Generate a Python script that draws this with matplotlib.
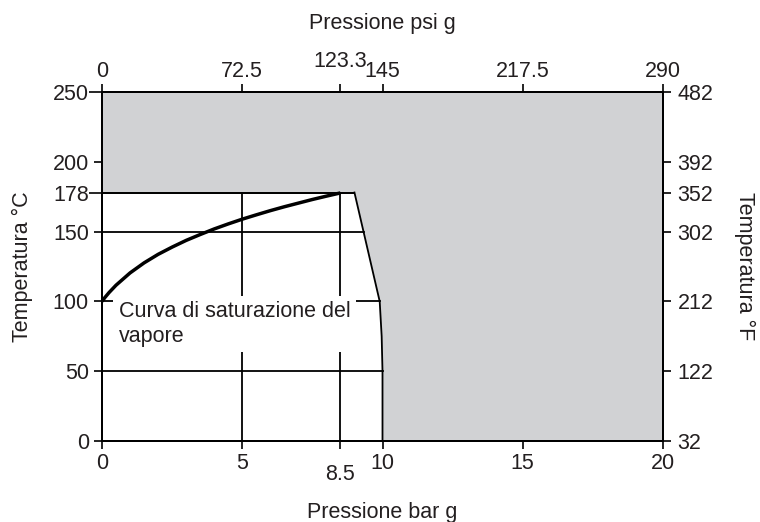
import numpy as np
import matplotlib
matplotlib.use("Agg")
import matplotlib.pyplot as plt

plt.rcParams['font.family'] = ['Liberation Sans', 'DejaVu Sans']

# Data
pressure_bar = [0, 0.1, 0.25, 0.5, 1, 1.5, 2, 2.5, 3, 3.5, 4, 4.5, 5, 5.5, 6, 6.5, 7, 7.5, 8, 8.5]
sat_temp_c = [100, 102.7, 106.3, 111.6, 120.4, 127.6, 133.7, 138.9, 143.7, 147.9, 151.9,
              155.5, 158.9, 162.0, 165.0, 167.8, 170.4, 173.0, 175.4, 177.7]
limit_p = [9.0, 9.9, 9.97, 10.0, 10.0]
limit_t = [178, 100, 75, 50, 0]
bar_ticks = [0, 5, 8.5, 10, 15, 20]
bar_labels = ['0', '5', '8.5', '10', '15', '20']
psi_labels = ['0', '72.5', '123.3', '145', '217.5', '290']
c_ticks = [0, 50, 100, 150, 178, 200, 250]
c_labels = ['0', '50', '100', '150', '178', '200', '250']
f_labels = ['32', '122', '212', '302', '352', '392', '482']
hlines_c = [178, 150, 100, 50]
vlines_bar = [5, 8.5]
max_t = 178

FS = 15.5
TXT = '#231f20'
fig = plt.figure(figsize=(7.6, 5.22), dpi=100)
ax = fig.add_axes([102/760, 1-441/522, (663-102)/760, (441-92)/522])
ax.set_xlim(0, 20)
ax.set_ylim(0, 250)

gray = '#d1d2d4'
poly_x = [0, 0, 20, 20] + limit_p[::-1]
poly_y = [max_t, 250, 250, 0] + limit_t[::-1]
ax.fill(poly_x, poly_y, color=gray, zorder=0, lw=0)

lw = 1.3
ax.plot(limit_p, limit_t, color='black', lw=lw, zorder=2)
ax.plot([0, limit_p[0]], [max_t, max_t], color='black', lw=lw, zorder=2)
lp_rev = limit_p[::-1]
lt_rev = limit_t[::-1]
for t in hlines_c:
    xe = np.interp(t, lt_rev, lp_rev)
    ax.plot([0, xe], [t, t], color='black', lw=lw, zorder=1)
for p in vlines_bar:
    ax.plot([p, p], [0, max_t], color='black', lw=lw, zorder=1)

ax.plot(pressure_bar, sat_temp_c, color='black', lw=2.5, zorder=3, solid_capstyle='butt')

ax.text(0.6, 100, 'Curva di saturazione del\nvapore', fontsize=FS, ha='left', va='top',
        linespacing=1.2, zorder=4, color=TXT,
        bbox=dict(facecolor='white', edgecolor='none', pad=4))

ax.set_xticks(bar_ticks)
ax.set_xticklabels(bar_labels)
ax.set_yticks(c_ticks)
ax.set_yticklabels(c_labels)
ax.tick_params(axis='x', direction='out', length=5.5, width=1.2, labelsize=FS, colors='black',
               labelcolor=TXT, pad=3)
ax.tick_params(axis='y', direction='out', length=5.5, width=1.2, labelsize=FS, colors='black',
               labelcolor=TXT, pad=4)
for s in ax.spines.values():
    s.set_linewidth(1.3)

ax.set_xlabel('Pressione bar g', fontsize=FS, labelpad=12, color=TXT)
ax.set_ylabel('Temperatura °C', fontsize=FS, labelpad=14, color=TXT)

# longer tick for 8.5
t85 = ax.xaxis.get_major_ticks()[2]
t85.tick1line.set_markersize(12)
t85.set_pad(11)
for i in (4, 6):
    ax.yaxis.get_major_ticks()[i].tick1line.set_markersize(9.5)

axt = ax.twiny()
axt.set_xlim(0, 20)
axt.set_xticks(bar_ticks)
axt.set_xticklabels(psi_labels)
axt.tick_params(direction='out', length=5.5, width=1.2, labelsize=FS, colors='black',
                labelcolor=TXT, pad=2)
axt.set_xlabel('Pressione psi g', fontsize=FS, labelpad=16, color=TXT)
t123 = axt.xaxis.get_major_ticks()[2]
t123.tick2line.set_markersize(12)
t123.set_pad(9)

axr = ax.twinx()
axr.set_ylim(0, 250)
axr.set_yticks(c_ticks)
axr.set_yticklabels(f_labels)
axr.tick_params(direction='out', length=5.5, width=1.2, labelsize=FS, colors='black',
                labelcolor=TXT, pad=5)
axr.set_ylabel('Temperatura °F', fontsize=FS, rotation=270, labelpad=30, color=TXT)

for a in (axt, axr):
    for s in a.spines.values():
        s.set_linewidth(1.3)

fig.savefig('out.png', dpi=100)
